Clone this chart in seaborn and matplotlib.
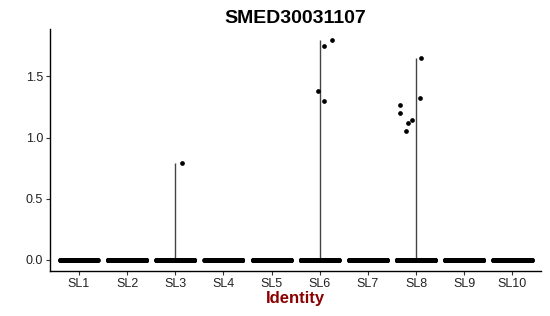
import numpy as np
import pandas as pd
import matplotlib
matplotlib.use("Agg")
import matplotlib.pyplot as plt
import seaborn as sns

sns.set_style("white")
plt.rcParams["font.family"] = ["Liberation Sans", "DejaVu Sans"]

# identities and expression values
identities = ["SL1", "SL2", "SL3", "SL4", "SL5", "SL6", "SL7", "SL8", "SL9", "SL10"]
zero_counts = [300, 300, 300, 300, 300, 300, 300, 300, 300, 260]
nonzero = {
    "SL3": [0.79],
    "SL6": [1.75, 1.38, 1.30, 1.80],
    "SL8": [1.65, 1.27, 1.20, 1.12, 1.32, 1.14, 1.05],
}

rows = []
for ident, n in zip(identities, zero_counts):
    rows += [(ident, 0.0)] * n
    rows += [(ident, v) for v in nonzero.get(ident, [])]
df = pd.DataFrame(rows, columns=["ident", "expr"])

fig = plt.figure(figsize=(5.5, 3.16), dpi=100)
ax = fig.add_axes([0.091, 0.143, 0.893, 0.766])

# thin "violins": density is almost all at zero, so they reduce to a line
maxes = df.groupby("ident", sort=False)["expr"].max().reindex(identities)
ax.vlines(np.arange(len(identities)), 0, maxes.values, color="#444444", lw=1.0, zorder=1)

np.random.seed(3)
sns.stripplot(data=df, x="ident", y="expr", order=identities, color="black",
              size=3.4, jitter=0.4, linewidth=0, ax=ax, zorder=2)

top = df["expr"].max()
ax.set_ylim(-0.05 * top, top * 1.05)
ax.set_xlim(-0.6, len(identities) - 0.4)
ax.set_yticks([0, 0.5, 1.0, 1.5])
ax.set_yticklabels(["0.0", "0.5", "1.0", "1.5"])

for s in ["top", "right"]:
    ax.spines[s].set_visible(False)
for s in ["left", "bottom"]:
    ax.spines[s].set_color("black")
    ax.spines[s].set_linewidth(1.0)
ax.tick_params(axis="both", length=3, width=0.8, color="#333333",
               labelsize=9, labelcolor="#222222", bottom=True, left=True, pad=2)

ax.set_title("SMED30031107", fontsize=14, fontweight="bold", color="black", pad=4)
ax.set_xlabel("Identity", fontsize=12, fontweight="bold", color="#8B0000", labelpad=1)
ax.set_ylabel("")

fig.savefig("out.png", dpi=100)
